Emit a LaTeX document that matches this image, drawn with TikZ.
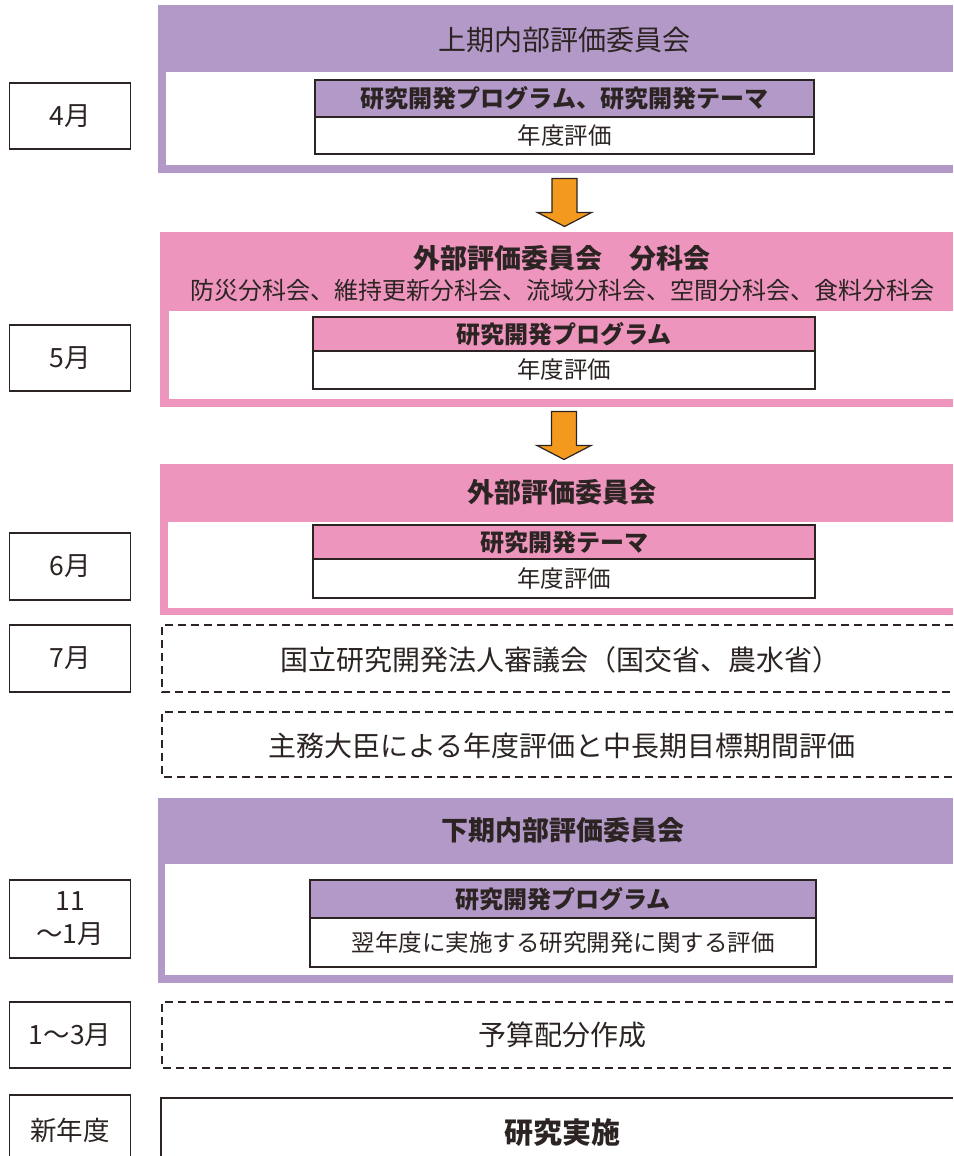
\documentclass[tikz,border=0pt]{standalone}
\usepackage{fontspec}
\setmainfont{Noto Sans CJK JP}
\usetikzlibrary{calc}
\definecolor{purp}{HTML}{B399C7}
\definecolor{pinkc}{HTML}{ED95BD}
\definecolor{orng}{HTML}{F39A1E}
\definecolor{ink}{HTML}{2B2422}
\begin{document}
\begin{tikzpicture}[x=1pt,y=-1pt,
  every node/.style={inner sep=0pt, outer sep=0pt, text=ink},
  monthbox/.style={draw=ink, line width=1.5pt, fill=white, anchor=north west,
    minimum width=121, font=\fontsize{26.5}{33}\selectfont, align=center},
  outerbox/.style={fill=#1, anchor=north west},
  innerbox/.style={fill=white, anchor=north west},
  titlereg/.style={font=\fontsize{28}{34}\selectfont},
  titlebold/.style={font=\fontsize{27}{34}\selectfont\bfseries},
  subtitle/.style={font=\fontsize{24}{30}\selectfont},
  hdrbox/.style={draw=ink, line width=2pt, fill=#1, anchor=north west,
    font=\fontsize{24}{28}\selectfont\bfseries},
  bodybox/.style={draw=ink, line width=2pt, fill=white, anchor=north,
    font=\fontsize{23.5}{28}\selectfont},
  plainbox/.style={anchor=north west, font=\fontsize{27.5}{34}\selectfont},
  dashline/.style={draw=ink, line width=1.5pt, dash pattern=on 8pt off 5pt},
  solidline/.style={draw=ink, line width=1.5pt},
  blockarrow/.style={fill=orng, draw=ink, line width=1.2pt, line join=miter}
]
\useasboundingbox (0,0) rectangle (953,1156);

% month labels
\node[monthbox, minimum height=66] (m4) at (9.5,83) {4月};
\node[monthbox, minimum height=66] (m5) at (9.5,325) {5月};
\node[monthbox, minimum height=67] (m6) at (9.5,533) {6月};
\node[monthbox, minimum height=67] (m7) at (9.5,625) {7月};
\node[monthbox, minimum height=78] (m11) at (9.5,880) {11\\～1月};
\node[monthbox, minimum height=66] (m1) at (9.5,1002) {1～3月};
\node[monthbox, minimum height=70] (mn) at (9.5,1095) {新年度};

% box 1
\node[outerbox=purp, minimum width=795, minimum height=168] (box1) at (158,5) {};
\node[innerbox, minimum width=787, minimum height=93] (in1) at (166,72) {};
\node[titlereg] (t1) at (564,40) {上期内部評価委員会};
\node[hdrbox=purp, minimum width=499, minimum height=37] (h1) at (315,80) {研究開発プログラム、研究開発テーマ};
\node[bodybox, minimum width=499, minimum height=37] (e1) at (h1.south) {年度評価};

% box 2
\node[outerbox=pinkc, minimum width=793, minimum height=175] (box2) at (160,232) {};
\node[innerbox, minimum width=784, minimum height=88] (in2) at (169,311) {};
\node[titlebold] (t2) at (562,258) {外部評価委員会　分科会};
\node[subtitle] (s2) at (562,290) {防災分科会、維持更新分科会、流域分科会、空間分科会、食料分科会};
\node[hdrbox=pinkc, minimum width=502, minimum height=34] (h2) at (313,317) {研究開発プログラム};
\node[bodybox, minimum width=502, minimum height=38] (e2) at (h2.south) {年度評価};

% box 3
\node[outerbox=pinkc, minimum width=793, minimum height=151] (box3) at (160,464) {};
\node[innerbox, minimum width=785, minimum height=86] (in3) at (168,522) {};
\node[titlebold] (t3) at (562,492) {外部評価委員会};
\node[hdrbox=pinkc, minimum width=502, minimum height=34] (h3) at (313,525) {研究開発テーマ};
\node[bodybox, minimum width=502, minimum height=39] (e3) at (h3.south) {年度評価};

% dashed boxes
\node[plainbox, minimum width=791, minimum height=67] (d1) at (162,625) {};
\node[titlereg] (d1t) at (560,660) {国立研究開発法人審議会（国交省、農水省）};
\draw[dashline] (d1.north east) -- (d1.north west) -- (d1.south west) -- (d1.south east);
\node[plainbox, minimum width=791, minimum height=65] (d2) at (162,712) {};
\node[titlereg] (d2t) at (562,746) {主務大臣による年度評価と中長期目標期間評価};
\draw[dashline] (d2.north east) -- (d2.north west) -- (d2.south west) -- (d2.south east);

% box 4
\node[outerbox=purp, minimum width=795, minimum height=185] (box4) at (158,798) {};
\node[innerbox, minimum width=788, minimum height=111] (in4) at (165,864) {};
\node[titlebold] (t4) at (563,830) {下期内部評価委員会};
\node[hdrbox=purp, minimum width=506, minimum height=38] (h4) at (310,880) {研究開発プログラム};
\node[bodybox, minimum width=506, minimum height=49] (e4) at (h4.south) {翌年度に実施する研究開発に関する評価};

% budget
\node[plainbox, minimum width=791, minimum height=66] (d3) at (162,1002) {};
\node[titlereg] (d3t) at (562,1035) {予算配分作成};
\draw[dashline] (d3.north east) -- (d3.north west) -- (d3.south west) -- (d3.south east);

% research
\node[plainbox, minimum width=792, minimum height=70] (r1) at (161,1098) {};
\node[font=\fontsize{29}{34}\selectfont\bfseries] (r1t) at (562,1133) {研究実施};
\draw[solidline] (r1.north east) -- (r1.north west) -- (r1.south west);

% block arrows
\path (box1.south) -- (box2.north) coordinate[pos=.5] (mid1);
\coordinate (c1) at (h1.south |- mid1);
\draw[blockarrow] ($(c1)+(-12.5,-24)$) -- ++(25,0) -- ++(0,34) -- ++(14.5,0)
  -- ($(c1)+(0,24)$) -- ($(c1)+(-27,10)$) -- ++(14.5,0) -- cycle;
\path (box2.south) -- (box3.north) coordinate[pos=.5] (mid2);
\coordinate (c2) at (h2.south |- mid2);
\draw[blockarrow] ($(c2)+(-12.5,-24)$) -- ++(25,0) -- ++(0,34) -- ++(14.5,0)
  -- ($(c2)+(0,24)$) -- ($(c2)+(-27,10)$) -- ++(14.5,0) -- cycle;
\end{tikzpicture}
\end{document}
